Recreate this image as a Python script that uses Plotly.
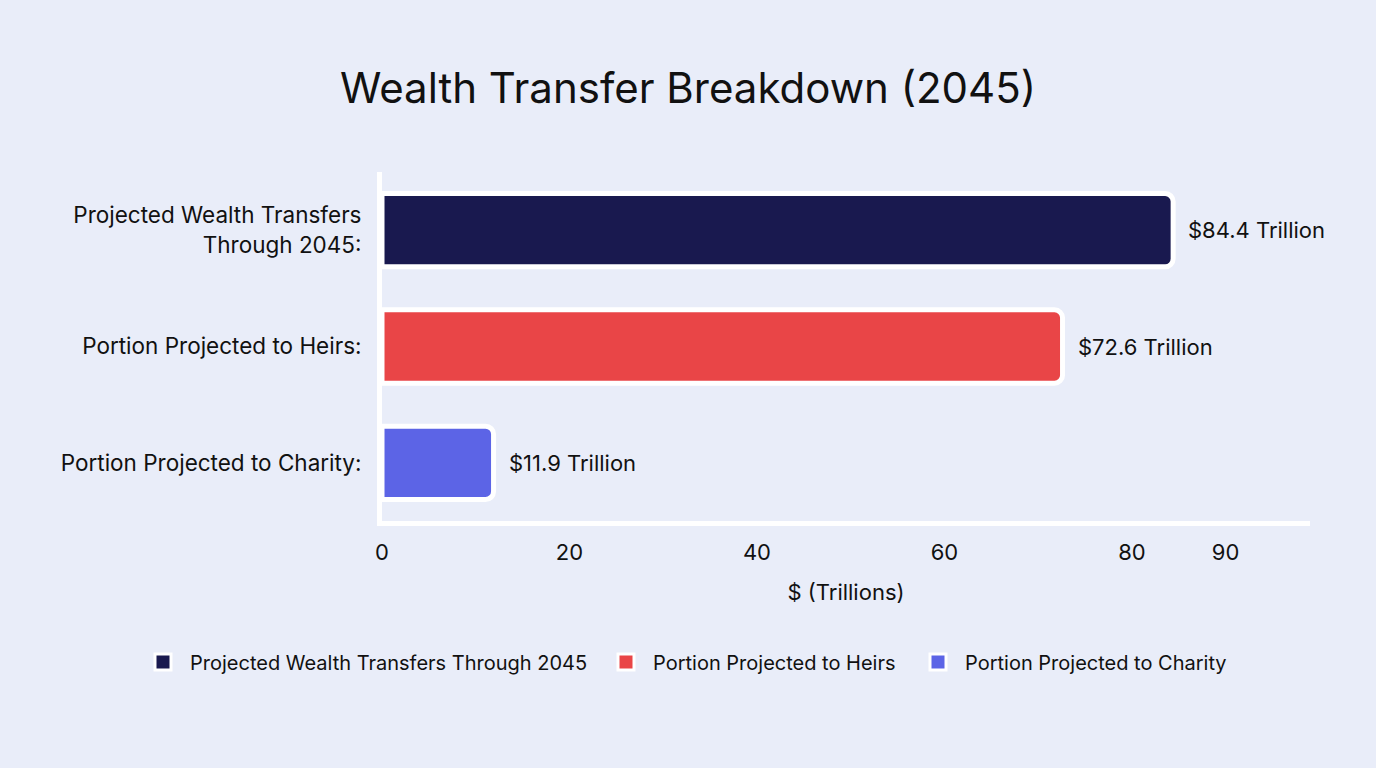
import plotly.graph_objects as go

categories = ["Projected Wealth Transfers<br>Through 2045:", "Portion Projected to Heirs:", "Portion Projected to Charity:"]
series_names = ["Projected Wealth Transfers Through 2045", "Portion Projected to Heirs", "Portion Projected to Charity"]
values = [84.4, 72.6, 11.9]
value_labels = ["$84.4 Trillion", "$72.6 Trillion", "$11.9 Trillion"]
colors = ["#19194f", "#e94547", "#5c64e6"]
tick_vals = [0, 20, 40, 60, 80, 90]

FONT = "Inter, Roboto, sans-serif"
BG = "#e9edf9"
legend_ids = ["legend", "legend2", "legend3"]
legend_left_px = [136, 599, 911]

fig = go.Figure()
for cat, name, val, col in zip(categories, series_names, values, colors):
    fig.add_trace(go.Bar(
        y=[cat], x=[val], name=name, orientation="h", showlegend=False,
        marker=dict(color=col, line=dict(color="white", width=5), cornerradius=8),
        width=0.63, hoverinfo="x+name",
    ))

# legend entries (square swatches), one legend box each
for name, col, lid in zip(series_names, colors, legend_ids):
    fig.add_trace(go.Scatter(
        x=[None], y=[None], mode="markers", name=name, legend=lid,
        marker=dict(symbol="square", size=22, color=col, line=dict(color="white", width=3)),
    ))

annotations = []
for cat, val, lab in zip(categories, values, value_labels):
    annotations.append(dict(x=val, y=cat, xref="x", yref="y", text=lab, showarrow=False,
                            xanchor="left", yanchor="middle", xshift=13,
                            font=dict(size=22, color="#111111", family=FONT)))

legend_common = dict(orientation="h", xref="container", xanchor="left",
                     yref="container", y=1 - 662 / 768, yanchor="middle",
                     font=dict(size=20, family=FONT, color="#111111"), itemwidth=44,
                     bgcolor="rgba(0,0,0,0)")

fig.update_layout(
    width=1376, height=768,
    paper_bgcolor=BG, plot_bgcolor=BG,
    barmode="overlay",
    margin=dict(l=382, r=66, t=172, b=247, autoexpand=False),
    font=dict(family=FONT, size=20, color="#111111"),
    annotations=annotations,
    title=dict(text="Wealth Transfer Breakdown (2045)", x=0.5, xref="container", xanchor="center",
               y=1 - 88 / 768, yref="container", yanchor="middle",
               font=dict(size=42, family=FONT, color="#111111")),
    xaxis=dict(range=[0, 99], tickvals=tick_vals, ticktext=[str(v) for v in tick_vals],
               showgrid=False, zeroline=False, showline=True, linecolor="white", linewidth=5,
               ticks="", ticklabelstandoff=8, tickfont=dict(size=22), automargin=False,
               title=dict(text="$ (Trillions)", standoff=22, font=dict(size=22))),
    yaxis=dict(categoryorder="array", categoryarray=categories, autorange="reversed",
               showgrid=False, zeroline=False, showline=True, linecolor="white", linewidth=5,
               ticks="", ticklabelstandoff=11, tickfont=dict(size=22.5), automargin=False),
    legend=dict(x=legend_left_px[0] / 1376, **legend_common),
    legend2=dict(x=legend_left_px[1] / 1376, **legend_common),
    legend3=dict(x=legend_left_px[2] / 1376, **legend_common),
)

fig.write_html("out.html")
